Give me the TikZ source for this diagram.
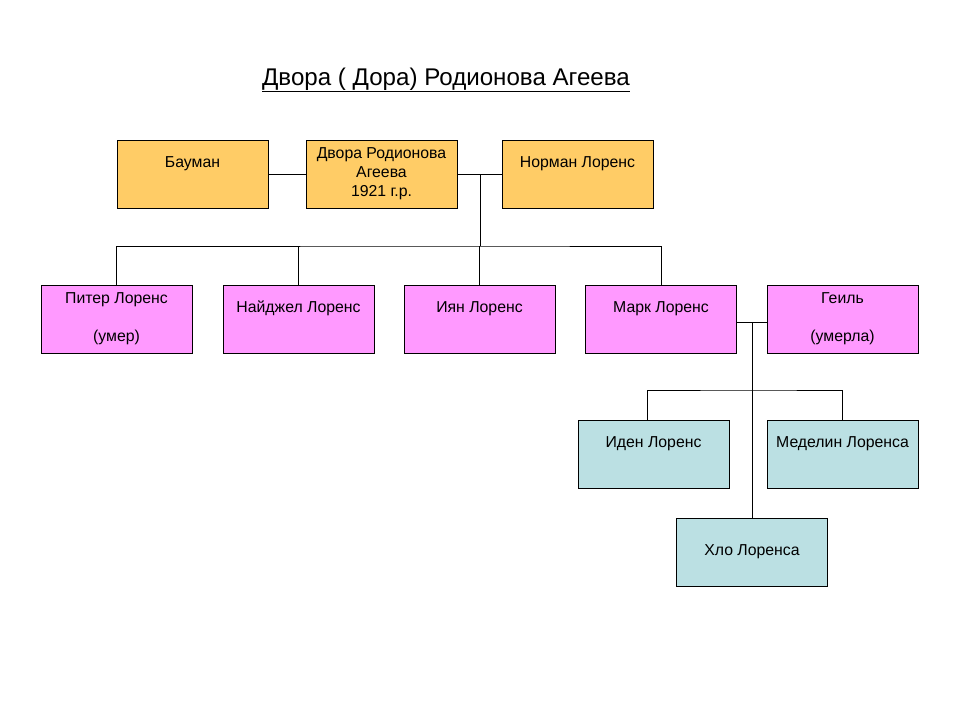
\documentclass[tikz,border=0pt]{standalone}
\usepackage{fontspec}
\setmainfont{Liberation Sans}
\usepackage{tikz}
\usetikzlibrary{positioning}

\definecolor{oldgold}{RGB}{255,204,102}
\definecolor{kidpink}{RGB}{255,153,255}
\definecolor{grandblue}{RGB}{187,224,227}

\begin{document}
\begin{tikzpicture}[x=0.03cm,y=-0.03cm,
  thin,base node/.style={rectangle,draw,inner sep=0pt,
  minimum width=4.53cm,minimum height=2.04cm,align=center,
  font=\fontsize{13.5}{16.2}\selectfont},
  elder node/.style={base node,fill=oldgold},
  kid node/.style={base node,fill=kidpink},
  grand node/.style={base node,fill=grandblue}]
  \useasboundingbox (0,0) rectangle (960,720);

  \node[font=\fontsize{20.6}{24}\selectfont] (TITLE) at (446,80) {\underline{Двора ( Дора) Родионова Агеева}};

  \node[elder node] (BAUM) at (192.5,174) {Бауман\\\strut};
  \node[elder node] (DVORA) at (381.5,174) {Двора Родионова\\Агеева\\1921 г.р.};
  \node[elder node] (NORM) at (577.5,174) {Норман Лоренс\\\strut};

  \node[kid node] (PITER) at (116.5,319) {Питер Лоренс\\\strut\\(умер)};
  \node[kid node] (NIGEL) at (298.5,319) {Найджел Лоренс\\\strut};
  \node[kid node] (IAN) at (479.5,319) {Иян Лоренс\\\strut};
  \node[kid node] (MARK) at (661,319) {Марк Лоренс\\\strut};
  \node[kid node] (GAIL) at (842.5,319) {Геиль\\\strut\\(умерла)};

  \node[grand node] (IDEN) at (653.5,454) {Иден Лоренс\\\strut};
  \node[grand node] (MEDEL) at (842.5,454) {Меделин Лоренса\\\strut};
  \node[grand node] (HLO) at (752,552) {Хло Лоренса};

  \coordinate (J1) at (480,174);
  \coordinate (BUS1) at (480,246);
  \coordinate (J2) at (752,322);
  \coordinate (BUS2) at (752,390);
  \coordinate (IDTOP) at (647,420);

  \draw (BAUM) -- (DVORA);
  \draw (DVORA) -- (NORM);
  \draw (J1) -- (BUS1);
  \draw (PITER.north) |- (BUS1) -| (MARK.north);
  \draw (NIGEL.north) -- (NIGEL.north |- BUS1);
  \draw (IAN.north) -- (IAN.north |- BUS1);

  \draw (MARK.east |- J2) -- (GAIL.west |- J2);
  \draw (J2) -- (HLO.north);
  \draw (IDTOP) |- (BUS2) -| (MEDEL.north);
\end{tikzpicture}
\end{document}
